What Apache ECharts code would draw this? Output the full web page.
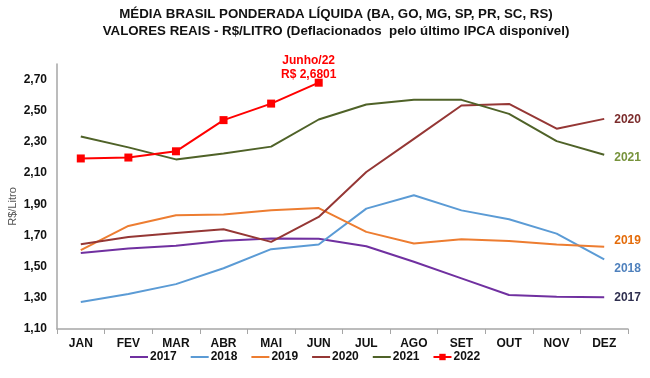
<!DOCTYPE html>
<html><head><meta charset="utf-8">
<script src="https://cdn.jsdelivr.net/npm/echarts@6/dist/echarts.min.js"></script>
<style>html,body{margin:0;padding:0;background:#fff}#c{width:650px;height:378px}</style>
</head><body><div id="c"></div>
<script>
const months = ['JAN','FEV','MAR','ABR','MAI','JUN','JUL','AGO','SET','OUT','NOV','DEZ'];
const yTicks = ['1,10','1,30','1,50','1,70','1,90','2,10','2,30','2,50','2,70'];
const v2017 = [1.588,1.616,1.634,1.666,1.680,1.679,1.631,1.531,1.425,1.318,1.307,1.303];
const v2018 = [1.273,1.324,1.388,1.490,1.612,1.642,1.872,1.958,1.861,1.804,1.712,1.546];
const v2019 = [1.606,1.761,1.830,1.834,1.862,1.876,1.723,1.648,1.676,1.665,1.642,1.627];
const v2020 = [1.644,1.690,1.716,1.740,1.659,1.819,2.107,2.320,2.534,2.544,2.385,2.448];
const v2021 = [2.335,2.265,2.188,2.226,2.270,2.444,2.540,2.570,2.570,2.480,2.305,2.218];
const v2022 = [2.194,2.200,2.240,2.440,2.546,2.6801];
const seriesNames = ['2017','2018','2019','2020','2021','2022'];
const annotation = ['Junho/22','R$ 2,6801'];

const chart = echarts.init(document.getElementById('c'));
const FONT = '"Liberation Sans", Arial, sans-serif';
function lineSeries(name, data, color, labelColor, offY){
  return {
    name, type:'line', data, symbol:'none', smooth:false,
    lineStyle:{color, width:2}, itemStyle:{color},
    endLabel: {show:true, formatter:'{a}', color:labelColor, fontWeight:'bold', fontSize:12, fontFamily:FONT, distance:10, offset:[0,offY]},
    emphasis:{disabled:true}
  };
}
const series = [
  lineSeries(seriesNames[0], v2017, '#7030A0', '#2F2F4F', 0),
  lineSeries(seriesNames[1], v2018, '#5B9BD5', '#4F81BD', 9),
  lineSeries(seriesNames[2], v2019, '#ED7D31', '#E46C0A', -6),
  lineSeries(seriesNames[3], v2020, '#953735', '#7B2C2C', 1),
  lineSeries(seriesNames[4], v2021, '#4F6228', '#77933C', 3),
  {
    name: seriesNames[5], type:'line', data: v2022, symbol:'rect', symbolSize:8, showAllSymbol:true,
    lineStyle:{color:'#FF0000', width:2}, itemStyle:{color:'#FF0000'},
    emphasis:{disabled:true},
    markPoint:{
      symbol:'circle', symbolSize:0,
      data:[{coord:[5, v2022[5]], value:0}],
      label:{show:true, position:'top', distance:1, offset:[-10,0],
        formatter: annotation.join('\n'), color:'#FF0000', fontWeight:'bold', fontSize:12, lineHeight:14, fontFamily:FONT}
    }
  }
];
const hidden = {color:'rgba(0,0,0,0)', borderWidth:0};
chart.setOption({
  animation:false,
  title:{
    text:'MÉDIA BRASIL PONDERADA LÍQUIDA (BA, GO, MG, SP, PR, SC, RS)\nVALORES REAIS - R$/LITRO (Deflacionados  pelo último IPCA disponível)',
    left:331, top:1, textAlign:'center',
    textStyle:{fontFamily:FONT, fontSize:13.3, fontWeight:'bold', color:'#111', lineHeight:17}
  },
  grid:{left:57, right:22, top:64, bottom:49, outerBoundsMode:'none', containLabel:false},
  legend:{
    bottom:10, left:124, itemWidth:18, itemHeight:8, itemGap:13,
    textStyle:{fontFamily:FONT, fontSize:12, fontWeight:'bold', color:'#111', padding:[0,0,0,-3]},
    data: seriesNames.map((n,i)=> i===5 ? {name:n} : {name:n, itemStyle:hidden})
  },
  xAxis:{
    type:'category', data:months, boundaryGap:true,
    axisLine:{lineStyle:{color:'#A6A6A6', width:1.5}},
    axisTick:{show:true, length:5, lineStyle:{color:'#A6A6A6'}},
    axisLabel:{fontFamily:FONT, fontSize:12, fontWeight:'bold', color:'#111', margin:9}
  },
  yAxis:{
    type:'value', min:1.1, max:2.8, interval:0.2,
    name:'R$/Litro', nameLocation:'middle', nameGap:39, nameRotate:90, nameMoveOverlap:false,
    nameTextStyle:{fontFamily:FONT, fontSize:11, color:'#555', padding:[0,20,0,0]},
    splitLine:{show:false},
    axisLine:{show:true, lineStyle:{color:'#A6A6A6', width:1.5}},
    axisTick:{show:false},
    axisLabel:{fontFamily:FONT, fontSize:12, fontWeight:'bold', color:'#111', margin:10,
      formatter:function(v){ const k=Math.round((v-1.1)/0.2); return (Math.abs(v-1.1-k*0.2)<1e-6 && k>=0 && k<yTicks.length) ? yTicks[k] : ''; }}
  },
  series
});
</script></body></html>
